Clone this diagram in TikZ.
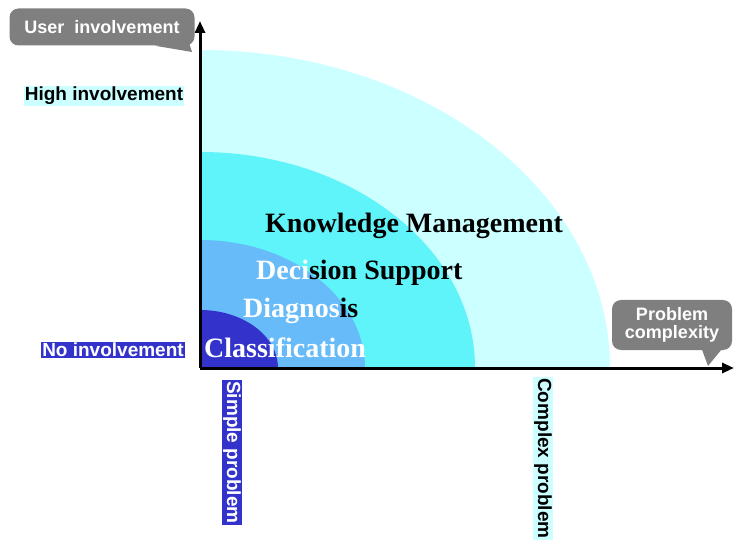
\documentclass[tikz,border=0pt]{standalone}
\usepackage{fontspec}
\setmainfont{Liberation Serif}
\setsansfont{Liberation Sans}
\usetikzlibrary{arrows.meta, positioning}

\definecolor{kmcyan}{HTML}{CCFFFF}
\definecolor{dscyan}{HTML}{5EF4FA}
\definecolor{dgblue}{HTML}{66BBF8}
\definecolor{clblue}{HTML}{3333CC}
\definecolor{callgray}{HTML}{7F7F7F}

\begin{document}
\begin{tikzpicture}[x=1pt, y=1pt]
    \tikzstyle{axislabel} = [inner sep=1pt, font=\sffamily\bfseries\fontsize{19}{21}\selectfont]
    \tikzstyle{callout} = [rectangle, rounded corners=9pt, fill=callgray, text=white, align=center, font=\sffamily\bfseries\fontsize{18}{18}\selectfont]
    \tikzstyle{field} = [inner sep=0pt, anchor=west, font=\rmfamily\bfseries\fontsize{28}{30}\selectfont]
    \tikzstyle{axis} = [line width=3pt, -{Triangle[length=12pt, width=10pt]}]

    \useasboundingbox (0,0) rectangle (734,539);

    \coordinate (O) at (200,171);
    \coordinate (ytop) at (200,518);
    \coordinate (xend) at (734,171);

    % quarter ellipses, outer to inner
    \fill[kmcyan] (O) -- ++(410,0) arc[start angle=0, end angle=90, x radius=410pt, y radius=318pt] -- cycle;
    \fill[dscyan] (O) -- ++(275,0) arc[start angle=0, end angle=90, x radius=275pt, y radius=216pt] -- cycle;
    \fill[dgblue] (O) -- ++(165,0) arc[start angle=0, end angle=90, x radius=165pt, y radius=128pt] -- cycle;
    \fill[clblue] (O) -- ++(78,0) arc[start angle=0, end angle=90, x radius=78pt, y radius=58pt] -- cycle;

    % fields
    \node (km) [field] at (265,313) {Knowledge Management};
    \node (ds) [field] at (256,266) {\textcolor{white}{Deci}sion Support};
    \node (dg) [field] at (243,228) {\textcolor{white}{Diagnos}is};
    \node (cl) [field, text=white] at (204,191) {Classification};

    % axes
    \draw [axis] (O) -- (ytop);
    \draw [axis] (O) -- (xend);

    % axis labels
    \node (high) [axislabel, fill=kmcyan] at (104,443) {High involvement};
    \node (none) [axislabel, fill=clblue, text=white] at (113,189) {No involvement};
    \node (simple) [axislabel, fill=clblue, text=white, rotate=-90, anchor=west] at (232,159) {Simple problem};
    \node (complex) [axislabel, fill=kmcyan, rotate=-90, anchor=west] at (543,162) {Complex problem};

    % callouts
    \node (user) [callout, minimum width=185pt, minimum height=37pt] at (102,512) {User\ \ involvement};
    \coordinate (usertip) at (192,487);
    \fill[callgray] ([xshift=-40pt]user.south east) -- (usertip) -- ([xshift=-6pt, yshift=4pt]user.south east) -- cycle;

    \node (prob) [callout, minimum width=120pt, minimum height=50pt, inner sep=2pt] at (672,214) {Problem\\complexity};
    \coordinate (probtip) at (708,173);
    \fill[callgray] ([xshift=-30pt]prob.south east) -- (probtip) -- ([xshift=-8pt, yshift=4pt]prob.south east) -- cycle;
\end{tikzpicture}
\end{document}
